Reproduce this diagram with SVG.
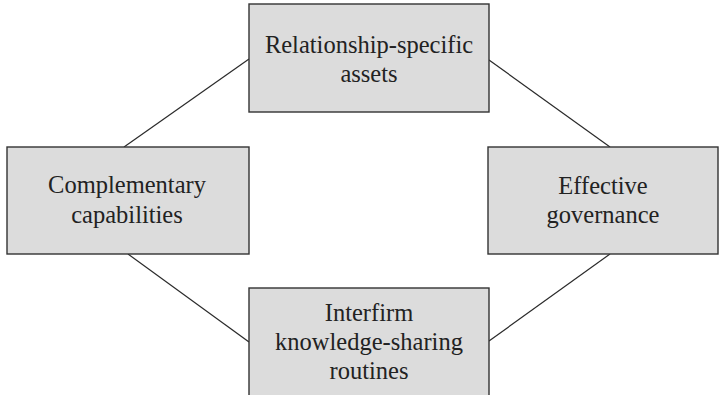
<svg xmlns="http://www.w3.org/2000/svg" width="719" height="395" viewBox="0 0 719 395">
  <style>
    .box { fill: #dcdcdc; stroke: #333333; stroke-width: 1.4; }
    .link { stroke: #2a2a2a; stroke-width: 1.2; fill: none; }
  </style>
  <rect width="719" height="395" fill="#ffffff"/>
  <g id="connectors">
    <line class="link" x1="124" y1="147" x2="249" y2="59"/>
    <line class="link" x1="489" y1="60" x2="610" y2="147"/>
    <line class="link" x1="128" y1="254" x2="249" y2="342"/>
    <line class="link" x1="489" y1="341" x2="610" y2="254"/>
  </g>
  <g font-family="Liberation Serif, DejaVu Serif, serif" font-size="24.5" fill="#222222" text-anchor="middle">
    <g id="relationship-specific-assets">
      <rect class="box" x="249" y="4" width="240" height="108"/>
      <text x="369" y="53">Relationship-specific</text>
      <text x="369" y="82">assets</text>
    </g>
    <g id="complementary-capabilities">
      <rect class="box" x="7" y="147" width="242" height="107"/>
      <text x="127" y="193">Complementary</text>
      <text x="127" y="223">capabilities</text>
    </g>
    <g id="effective-governance">
      <rect class="box" x="488" y="147" width="230" height="107"/>
      <text x="603" y="194">Effective</text>
      <text x="603" y="223">governance</text>
    </g>
    <g id="interfirm-knowledge-sharing-routines">
      <rect class="box" x="249" y="288" width="240" height="112"/>
      <text x="369" y="321">Interfirm</text>
      <text x="369" y="350">knowledge-sharing</text>
      <text x="369" y="379">routines</text>
    </g>
  </g>
</svg>
